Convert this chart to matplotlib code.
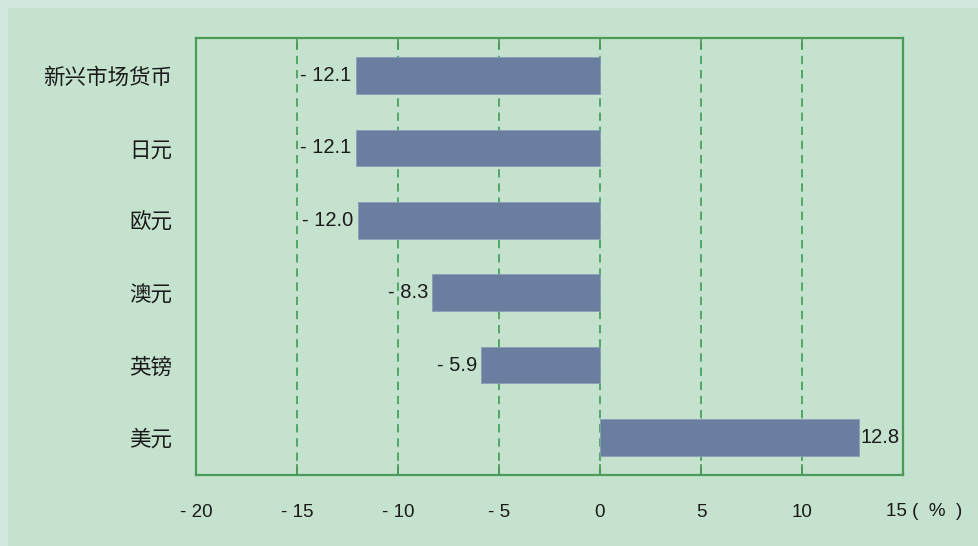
import matplotlib.pyplot as plt
from matplotlib.patches import Rectangle
from matplotlib.transforms import blended_transform_factory, ScaledTranslation

# data
categories = ['新兴市场货币', '日元', '欧元', '澳元', '英镑', '美元']
values = [-12.1, -12.1, -12.0, -8.3, -5.9, 12.8]
xticks = [-20, -15, -10, -5, 0, 5, 10, 15]
xtick_labels = ['- 20', '- 15', '- 10', '- 5', '0', '5', '10', '15 ( % )']

plt.rcParams['font.family'] = ['Liberation Sans', 'Noto Sans CJK SC', 'DejaVu Sans']

green = '#4a9a58'
bar_color = '#6a7ea0'

fig = plt.figure(figsize=(9.79, 5.46), dpi=100)
fig.patch.set_facecolor('#d3e7df')
fig.patches.append(Rectangle((8 / 979, 0), 1, 1 - 8 / 546, transform=fig.transFigure,
                             facecolor='#c5e2cf', edgecolor='none', zorder=-10))

ax = fig.add_axes([196 / 979, 1 - 475 / 546, 707 / 979, 437 / 546])
ax.set_facecolor('#c5e2cf')

ypos = list(range(len(categories)))
ax.barh(ypos, values, height=0.51, color=bar_color, edgecolor='#8a9cb8', linewidth=0.6, zorder=3)

for y, v in zip(ypos, values):
    if v < 0:
        txt = '- ' + '%.1f' % abs(v)
        ax.text(v - 0.2, y, txt, ha='right', va='center', fontsize=14.5, color='#1a1a1a', zorder=4)
    else:
        ax.text(v + 0.1, y, '%.1f' % v, ha='left', va='center', fontsize=14.5, color='#1a1a1a', zorder=4)

ax.set_xlim(-20, 15)
ax.set_ylim(5.52, -0.52)
ax.set_xticks(xticks)
# last label (with the unit) is drawn by hand, shifted like in the original
ax.set_xticklabels(xtick_labels[:-1] + [''], fontsize=13.5, color='#1a1a1a')
ax.set_yticks(ypos)
ax.set_yticklabels(categories, fontsize=15.5, color='#1a1a1a',
                   family=['Noto Sans CJK SC', 'DejaVu Sans'])

trans = blended_transform_factory(ax.transData, ax.transAxes) + \
    ScaledTranslation(-17 / 100, 0, fig.dpi_scale_trans)
ax.text(xticks[-1], -28 / 437, xtick_labels[-1].replace('( % )', '(  %  )'), transform=trans,
        ha='left', va='top', fontsize=13.5, color='#1a1a1a', clip_on=False)

for x in [-15, -10, -5, 0, 5, 10]:
    ax.axvline(x, color='#3f9a55', linestyle=(0, (5, 3.5)), linewidth=1.2, zorder=1)

ax.tick_params(axis='x', direction='in', length=8, color=green, width=1.2, pad=21, top=True)
ax.tick_params(axis='y', length=0, pad=17)

for s in ax.spines.values():
    s.set_color(green)
    s.set_linewidth(1.6)

fig.savefig('out.png', dpi=100, facecolor=fig.get_facecolor())
